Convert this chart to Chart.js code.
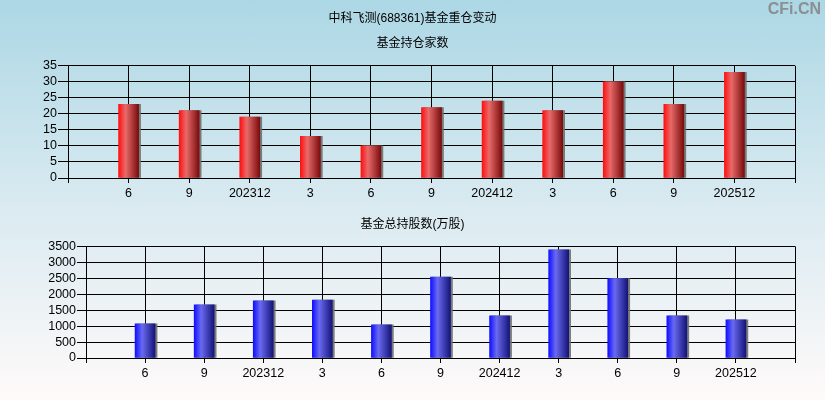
<!DOCTYPE html>
<html lang="zh">
<head>
  <meta charset="UTF-8" />
  <title>中科飞测(688361)基金重仓变动</title>
  <script src="https://cdn.jsdelivr.net/npm/chart.js"></script>
  <style>
    body {
      margin: 0;
      width: 825px;
      height: 400px;
      overflow: hidden;
      position: relative;
      background: linear-gradient(#acd7e5, #d4e8ef 45%, #fffafa);
      font-family: "Liberation Sans", "Noto Sans CJK SC", sans-serif;
    }
    canvas {
      position: absolute;
      left: 0;
    }
    #top { top: 0; }
    #bottom { top: 200px; }
    .mark {
      position: absolute;
      right: 4px;
      top: 0px;
      font: bold 16px "Liberation Sans", sans-serif;
      color: #8a8f92;
    }
  </style>
</head>
<body>
  <canvas id="top" width="825" height="200"></canvas>
  <canvas id="bottom" width="825" height="200"></canvas>
  <div class="mark">CFi.CN</div>

  <script>
    const periods = ['6', '9', '202312', '3', '6', '9', '202412', '3', '6', '9', '202512'];
    const fundCount = [23, 21, 19, 13, 10, 22, 24, 21, 30, 23, 33];
    const fundShares = [1070, 1670, 1790, 1820, 1040, 2540, 1320, 3390, 2490, 1320, 1200];

    // empty slot at each end, bars sit on the inner labels
    const labels = ['', ...periods, ''];
    const FONT = '"Liberation Sans", "Noto Sans CJK SC", sans-serif';

    const barShadow = {
      id: 'barShadow',
      beforeDatasetDraw(chart) {
        const ctx = chart.ctx;
        ctx.save();
        ctx.shadowColor = 'rgba(110,110,110,0.9)';
        ctx.shadowOffsetX = 2;
        ctx.shadowOffsetY = 0;
        ctx.shadowBlur = 0;
      },
      afterDatasetDraw(chart) {
        chart.ctx.restore();
      }
    };

    function barGradient(stops) {
      return function (c) {
        const chart = c.chart;
        if (!chart.chartArea) return stops[1];
        const x = chart.scales.x.getPixelForValue(c.dataIndex);
        const g = chart.ctx.createLinearGradient(x - 10, 0, x + 10, 0);
        g.addColorStop(0, stops[0]);
        g.addColorStop(0.35, stops[1]);
        g.addColorStop(1, stops[2]);
        return g;
      };
    }

    function makeChart(id, opts) {
      return new Chart(document.getElementById(id), {
        type: 'bar',
        data: {
          labels,
          datasets: [{
            data: [null, ...opts.values, null],
            backgroundColor: barGradient(opts.colors),
            borderWidth: 0,
            barThickness: 20
          }]
        },
        plugins: [barShadow],
        options: {
          responsive: false,
          animation: false,
          layout: { padding: 0 },
          plugins: {
            legend: { display: false },
            tooltip: { enabled: false },
            title: {
              display: true,
              text: opts.title,
              color: '#000',
              font: { family: FONT, size: 12, weight: 'normal' },
              padding: opts.titlePad
            },
            subtitle: {
              display: !!opts.subtitle,
              text: opts.subtitle || '',
              color: '#000',
              font: { family: FONT, size: 12, weight: 'normal' },
              padding: opts.subPad
            }
          },
          scales: {
            x: {
              offset: false,
              grid: { offset: false, color: '#000', lineWidth: 1, tickLength: 5 },
              border: { color: '#000' },
              ticks: {
                autoSkip: false, maxRotation: 0, color: '#000', padding: 3,
                font: { family: FONT, size: 12.5 }
              },
              afterFit(s) { s.height = opts.xHeight; }
            },
            y: {
              min: 0,
              max: opts.max,
              ticks: {
                stepSize: opts.step, autoSkip: false, color: '#000', padding: 1,
                font: { family: FONT, size: 12.5, lineHeight: 1 },
                callback: v => String(v)
              },
              grid: { color: '#000', lineWidth: 1, tickLength: opts.tick },
              border: { color: '#000' },
              afterFit(s) { s.width = opts.yWidth; }
            },
            // blank strip on the right so the titles stay centred on the page
            yRight: {
              position: 'right',
              display: true,
              grid: { display: false },
              border: { display: false },
              ticks: { display: false },
              afterFit(s) { s.width = 30; }
            }
          }
        }
      });
    }

    makeChart('top', {
      values: fundCount,
      colors: ['#ff1010', '#e86a6a', '#7a0c0c'],
      title: '中科飞测(688361)基金重仓变动',
      titlePad: { top: 11, bottom: 0 },
      subtitle: '基金持仓家数',
      subPad: { top: 11, bottom: 15 },
      max: 35, step: 5, tick: 10,
      yWidth: 68, xHeight: 22
    });

    makeChart('bottom', {
      values: fundShares,
      colors: ['#1010ff', '#6a6af0', '#14147a'],
      title: '基金总持股数(万股)',
      titlePad: { top: 17, bottom: 15 },
      max: 3500, step: 500, tick: 9,
      yWidth: 86, xHeight: 42
    });
  </script>
</body>
</html>
